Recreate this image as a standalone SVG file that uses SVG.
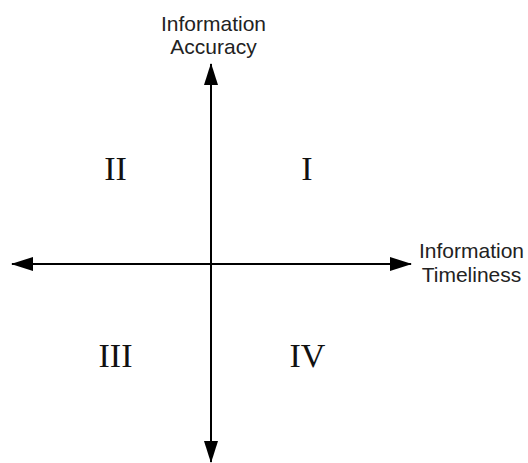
<svg xmlns="http://www.w3.org/2000/svg" width="528" height="463" viewBox="0 0 528 463">
<style>
.axis{stroke:#000;stroke-width:2;fill:none}
.lbl{font-family:"Liberation Sans",Arial,sans-serif;font-size:21px;fill:#222;text-anchor:middle}
.q{font-family:"Liberation Serif","Times New Roman",serif;font-size:34px;fill:#111;text-anchor:middle}
</style>
<defs>
<marker id="ah" markerUnits="userSpaceOnUse" markerWidth="22" markerHeight="14" refX="21" refY="7" orient="auto-start-reverse">
<polygon points="0,0 22,7 0,14" fill="#000"/>
</marker>
</defs>
<rect width="528" height="463" fill="#fff"/>
<g id="connectors">
<line class="axis" x1="211" y1="64" x2="211" y2="462" marker-start="url(#ah)" marker-end="url(#ah)"/>
<line class="axis" x1="12" y1="264" x2="411" y2="264" marker-start="url(#ah)" marker-end="url(#ah)"/>
</g>
<g id="label-accuracy">
<text class="lbl" x="213.5" y="31">Information</text>
<text class="lbl" x="213.5" y="54">Accuracy</text>
</g>
<g id="label-timeliness">
<text class="lbl" x="471.5" y="258">Information</text>
<text class="lbl" x="471.5" y="282">Timeliness</text>
</g>
<g id="q1"><text class="q" x="307" y="180">I</text></g>
<g id="q2"><text class="q" x="115.5" y="180">II</text></g>
<g id="q3"><text class="q" x="115.5" y="367">III</text></g>
<g id="q4"><text class="q" x="307.5" y="367">IV</text></g>
</svg>
